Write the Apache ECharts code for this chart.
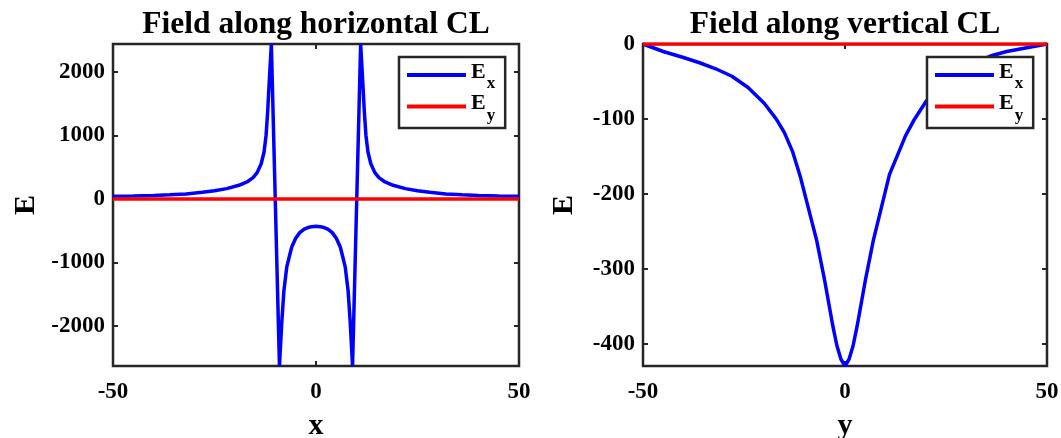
<!DOCTYPE html>
<html>
<head>
<meta charset="utf-8">
<script src="https://cdn.jsdelivr.net/npm/echarts@6/dist/echarts.min.js"></script>
<style>
  html, body { margin: 0; padding: 0; background: #ffffff; }
  #chart { width: 1061px; height: 438px; }
</style>
</head>
<body>
<div id="chart"></div>
<script>
// Field along the horizontal centre line (x, E)
const xHoriz = [-50, -45, -40, -36, -32, -28, -25, -22, -19, -17, -15.5, -14.5, -13.5, -12.8, -12.3, -11.9, -11.6, -11,
  -9, -8.4, -7.9, -7.2, -6, -5, -4, -3, -2, -1, 0, 1, 2, 3, 4, 5, 6, 7.2, 7.9, 8.4, 9,
  11, 11.6, 11.9, 12.3, 12.8, 13.5, 14.5, 15.5, 17, 19, 22, 25, 28, 32, 36, 40, 45, 50];
const exHoriz = [42, 48, 56, 66, 80, 104, 128, 163, 215, 268, 335, 415, 555, 740, 1000, 1380, 1750, 2440,
  -2630, -1910, -1440, -1070, -760, -620, -530, -478, -450, -436, -430, -436, -450, -478, -530, -620, -760, -1070, -1440, -1910, -2630,
  2440, 1750, 1380, 1000, 740, 555, 415, 335, 268, 215, 163, 128, 104, 80, 66, 56, 48, 42];
const eyHorizX = [-50, 50];
const eyHoriz = [0, 0];

// Field along the vertical centre line (y, E)
const yVert = [-50, -45, -40, -36, -32, -28, -24, -20, -17, -15, -13, -11, -9, -7, -5, -3, -2, -1, 0,
  1, 2, 3, 5, 7, 9, 11, 13, 15, 17, 20, 24, 28, 32, 36, 40, 45, 50];
const exVert = [0, -10, -18, -25, -33, -43, -58, -79, -100, -118, -143, -178, -220, -262, -316, -376, -402, -420, -429,
  -420, -402, -376, -316, -262, -218, -174, -148, -122, -102, -77, -54, -37, -25, -16, -10, -5, 0];
const eyVertY = [-50, 50];
const eyVert = [0, 0];

// Axis ticks and limits
const posTicks = [-50, 0, 50];
const leftETicks = [-2000, -1000, 0, 1000, 2000];
const rightETicks = [-400, -300, -200, -100, 0];
const leftELimits = [-2630, 2440];
const rightELimits = [-429, 0];

const titles = ['Field along horizontal CL', 'Field along vertical CL'];

const SERIF = '"Liberation Serif", "Times New Roman", serif';
const FRAME = '#262626';
const BLUE = '#0000ff';
const RED = '#ff0000';

const pairs = (xs, ys) => xs.map((x, i) => [x, ys[i]]);
const plain = (v) => String(v);

const grids = [
  { left: 113, top: 44, width: 406, height: 322 },
  { left: 643, top: 44, width: 404, height: 322 }
];

function xAxes(gi, name) {
  const tick = { show: true, inside: true, length: 5, customValues: posTicks, lineStyle: { color: FRAME, width: 2 } };
  return [
    {
      gridIndex: gi, type: 'value', position: 'bottom', min: -50, max: 50,
      axisLine: { show: false, onZero: false }, splitLine: { show: false },
      axisTick: tick,
      axisLabel: { customValues: posTicks, formatter: plain, margin: 15, color: '#000', fontFamily: SERIF, fontWeight: 'bold', fontSize: 23 },
      name: name, nameLocation: 'middle', nameGap: 45,
      nameTextStyle: { color: '#000', fontFamily: SERIF, fontWeight: 'bold', fontSize: 30 }
    },
    {
      gridIndex: gi, type: 'value', position: 'top', min: -50, max: 50,
      axisLine: { show: false, onZero: false }, splitLine: { show: false },
      axisTick: tick, axisLabel: { show: false }
    }
  ];
}

function yAxes(gi, limits, ticks, gap) {
  const tick = { show: true, inside: true, length: 5, customValues: ticks, lineStyle: { color: FRAME, width: 2 } };
  return [
    {
      gridIndex: gi, type: 'value', position: 'left', min: limits[0], max: limits[1],
      axisLine: { show: false, onZero: false }, splitLine: { show: false },
      axisTick: tick,
      axisLabel: { customValues: ticks, formatter: plain, margin: 8, color: '#000', fontFamily: SERIF, fontWeight: 'bold', fontSize: 23 },
      name: 'E', nameLocation: 'middle', nameGap: gap,
      nameTextStyle: { color: '#000', fontFamily: SERIF, fontWeight: 'bold', fontSize: 30 }
    },
    {
      gridIndex: gi, type: 'value', position: 'right', min: limits[0], max: limits[1],
      axisLine: { show: false, onZero: false }, splitLine: { show: false },
      axisTick: tick, axisLabel: { show: false }
    }
  ];
}

function legendBox(left) {
  return {
    left: left, top: 57, orient: 'vertical', selectedMode: false,
    data: ['Ex', 'Ey'],
    icon: 'rect', itemWidth: 59, itemHeight: 4, itemGap: 0,
    padding: [4, 10, 4, 8],
    borderColor: FRAME, borderWidth: 2.5, backgroundColor: '#ffffff',
    formatter: (n) => n === 'Ex' ? '{b|E}{s|x}' : '{b|E}{s|y}',
    textStyle: {
      color: '#000',
      rich: {
        b: { fontFamily: SERIF, fontWeight: 'bold', fontSize: 22, color: '#000', padding: [0, 0, 6, 0] },
        s: { fontFamily: SERIF, fontWeight: 'bold', fontSize: 17, color: '#000', padding: [18, 0, 0, 1] }
      }
    }
  };
}

function lineSeries(name, gi, data, color) {
  return {
    name: name, type: 'line', xAxisIndex: gi * 2, yAxisIndex: gi * 2,
    data: data, symbol: 'none', clip: true, animation: false,
    lineStyle: { color: color, width: 3.5 }, itemStyle: { color: color }
  };
}

const chart = echarts.init(document.getElementById('chart'), null, { renderer: 'canvas' });
chart.setOption({
  animation: false,
  backgroundColor: '#ffffff',
  grid: grids.map(g => Object.assign({
    show: true, borderColor: FRAME, borderWidth: 2.5, backgroundColor: 'transparent',
    containLabel: false, outerBoundsMode: 'none'
  }, g)),
  xAxis: [...xAxes(0, 'x'), ...xAxes(1, 'y')],
  yAxis: [...yAxes(0, leftELimits, leftETicks, 72), ...yAxes(1, rightELimits, rightETicks, 64)],
  legend: [legendBox(399), legendBox(927)],
  graphic: titles.map((t, i) => ({
    type: 'text', x: grids[i].left + grids[i].width / 2, y: 25,
    style: { text: t, align: 'center', verticalAlign: 'middle', fill: '#000', font: 'bold 31.5px ' + SERIF }
  })),
  series: [
    lineSeries('Ex', 0, pairs(xHoriz, exHoriz), BLUE),
    lineSeries('Ey', 0, pairs(eyHorizX, eyHoriz), RED),
    lineSeries('Ex', 1, pairs(yVert, exVert), BLUE),
    lineSeries('Ey', 1, pairs(eyVertY, eyVert), RED)
  ]
});
</script>
</body>
</html>
